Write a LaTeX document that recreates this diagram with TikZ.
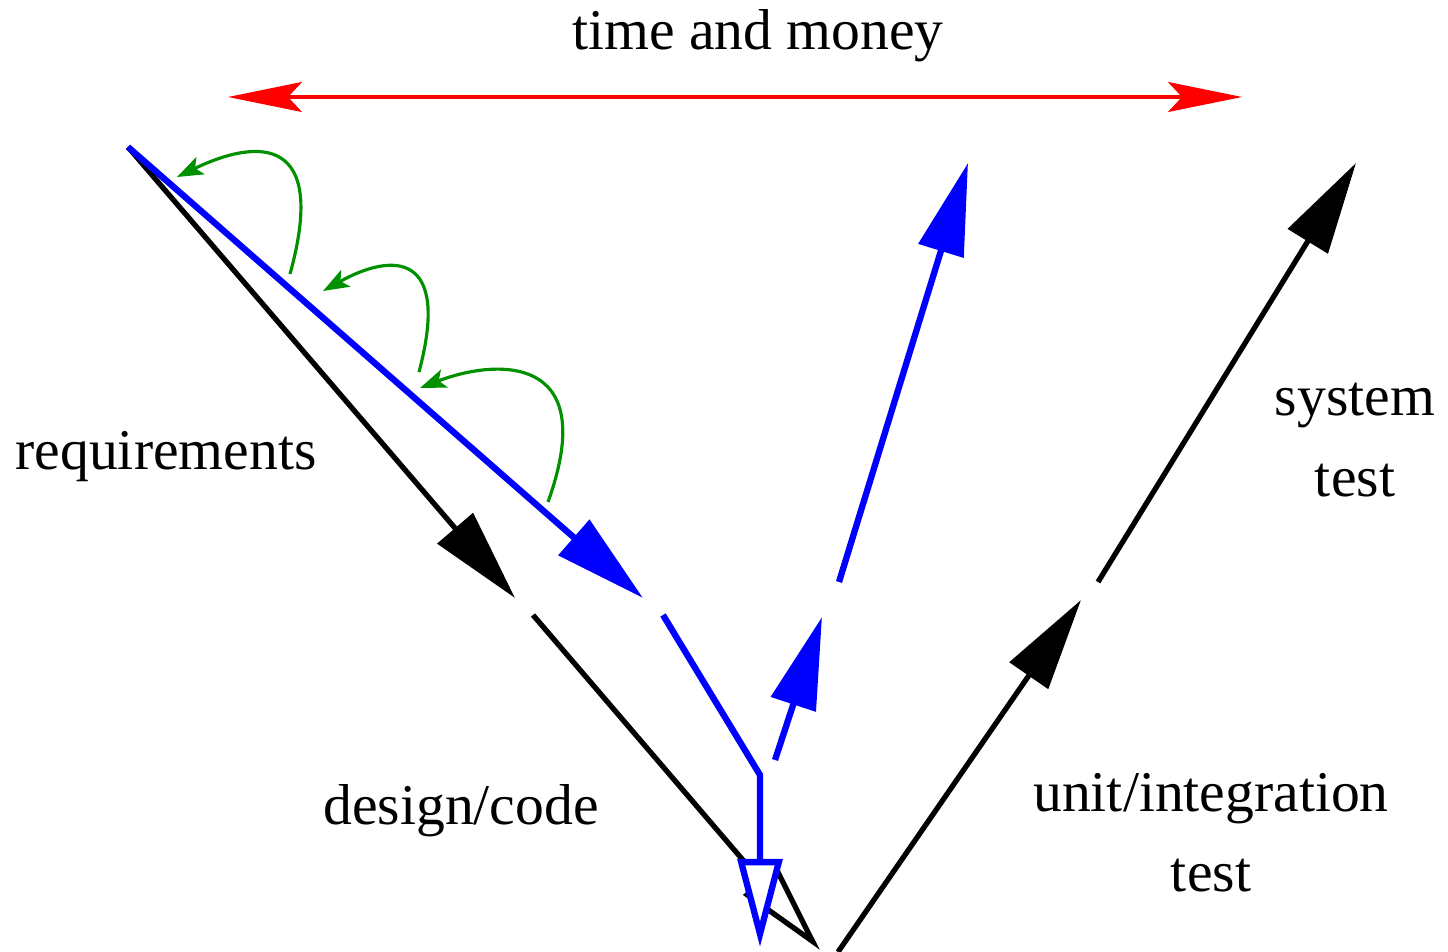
\documentclass[tikz,border=0pt]{standalone}
\usepackage{fontspec}
\setmainfont{Liberation Serif}
\usetikzlibrary{arrows.meta}
\definecolor{loopgreen}{RGB}{0,144,0}

\begin{document}
\begin{tikzpicture}[line join=miter,
                    phase line/.style={line width=1.5pt},
                    plan line/.style={blue, line width=1.8pt},
                    mid head/.style={-{Triangle[length=9.2mm, width=4.6mm]}},
                    end head/.style={-{Triangle[fill=white, length=8.8mm, width=4.4mm]}},
                    cost arrow/.style={red, line width=0.9pt,
                      {Stealth[length=7.4mm, width=3mm, inset=1.4mm]}-{Stealth[length=7.4mm, width=3mm, inset=1.4mm]}},
                    rework/.style={loopgreen, line width=0.9pt,
                      -{Stealth[length=2.6mm, width=1.9mm, inset=0.6mm]}},
                    phase label/.style={font=\fontsize{16.4}{22.8}\selectfont, align=center}]

  \useasboundingbox (0,0) rectangle (14.48,9.52);

  % corner points of the V
  \coordinate (req) at (1.28,8.05);
  \coordinate (down1) at (5.15,3.54);
  \coordinate (down2) at (5.33,3.37);
  \coordinate (bottom) at (8.20,0.02);
  \coordinate (up0) at (8.38,0.00);
  \coordinate (up1) at (10.81,3.52);
  \coordinate (up2) at (10.98,3.70);
  \coordinate (systop) at (13.56,7.89);

  % the planned (blue) path
  \coordinate (plan1) at (6.43,3.54);
  \coordinate (plan2) at (6.63,3.37);
  \coordinate (bend) at (7.60,1.77);
  \coordinate (planend) at (7.60,0.05);
  \coordinate (back0) at (7.75,1.92);
  \coordinate (back1) at (8.22,3.35);
  \coordinate (back2) at (8.39,3.70);
  \coordinate (backtop) at (9.68,7.89);

  % time and money
  \coordinate (left) at (2.28,8.55);
  \coordinate (right) at (12.42,8.55);

  % labels
  \node[phase label, anchor=base] (money) at (7.58,9.02) {time and money};
  \node[phase label, anchor=base] (reqs) at (1.66,4.82) {requirements};
  \node[phase label, anchor=base] (design) at (4.61,1.27) {design/code};
  \node[phase label] (unit) at (12.11,1.19) {unit/integration\\test};
  \node[phase label] (system) at (13.55,5.12) {system\\test};

  \draw[cost arrow] (left) -- (right);

  % black V
  \draw[phase line, mid head] (req) -- (down1);
  \draw[phase line, -{Triangle[open, length=9.2mm, width=4.4mm]}] (down2) -- (bottom);
  \draw[phase line, mid head] (up0) -- (up1);
  \draw[phase line, mid head] (up2) -- (systop);

  % blue V
  \draw[plan line, mid head] (req) -- (plan1);
  \draw[plan line, end head] (plan2) -- (bend) -- (planend);
  \draw[plan line, mid head] (back0) -- (back1);
  \draw[plan line, mid head] (back2) -- (backtop);

  % green loops
  \draw[rework] (2.90,6.78) .. controls (3.28,8.15) and (2.60,8.15) .. (1.77,7.75);
  \draw[rework] (4.19,5.80) .. controls (4.51,7.00) and (3.93,7.00) .. (3.23,6.61);
  \draw[rework] (5.48,4.50) .. controls (6.02,6.00) and (4.95,5.93) .. (4.20,5.64);
\end{tikzpicture}
\end{document}
